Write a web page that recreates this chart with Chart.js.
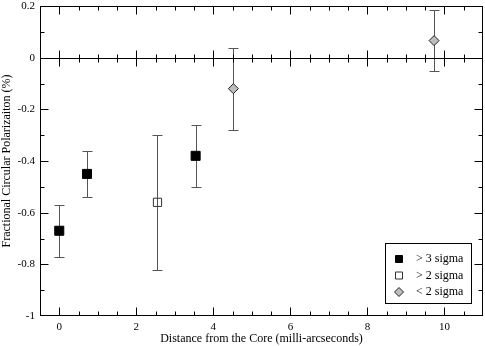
<!DOCTYPE html>
<html>
<head>
<meta charset="utf-8">
<script src="https://cdn.jsdelivr.net/npm/chart.js@4/dist/chart.umd.min.js"></script>
<style>
  html, body { margin: 0; padding: 0; background: #fff; }
  #wrap { width: 485px; height: 346px; }
</style>
</head>
<body>
<div id="wrap"><canvas id="cpChart"></canvas></div>
<script>
// distance from core (mas), fractional circular polarization (%) and error bar ends
const strongX = [0, 0.72, 3.54];
const strongY = [-0.67, -0.45, -0.38];
const strongLo = [-0.77, -0.54, -0.50];
const strongHi = [-0.57, -0.36, -0.26];

const midX = [2.55];
const midY = [-0.56];
const midLo = [-0.82];
const midHi = [-0.30];

const weakX = [4.52, 9.73];
const weakY = [-0.12, 0.066];
const weakLo = [-0.28, -0.053];
const weakHi = [0.039, 0.186];

const seriesNames = ["> 3 sigma", "> 2 sigma", "< 2 sigma"];
const xTicks = [0, 2, 4, 6, 8, 10];
const yTicks = [-1, -0.8, -0.6, -0.4, -0.2, 0, 0.2];

function pts(xs, ys, lo, hi) {
    return xs.map((x, i) => ({ x: x, y: ys[i], lo: lo[i], hi: hi[i] }));
}

const serif = "'Liberation Serif', 'DejaVu Serif', serif";

// error bars, drawn under the markers
const errorBars = {
    id: "errorBars",
    beforeDatasetsDraw(chart) {
        const c = chart.ctx, xs = chart.scales.x, ys = chart.scales.y;
        c.save();
        c.strokeStyle = "#555";
        c.lineWidth = 1;
        chart.data.datasets.forEach(ds => {
            ds.data.forEach(p => {
                const px = Math.round(xs.getPixelForValue(p.x)) + 0.5;
                const y1 = Math.round(ys.getPixelForValue(p.hi)) + 0.5;
                const y2 = Math.round(ys.getPixelForValue(p.lo)) + 0.5;
                c.beginPath();
                c.moveTo(px, y1); c.lineTo(px, y2);
                c.moveTo(px - 5, y1); c.lineTo(px + 5, y1);
                c.moveTo(px - 5, y2); c.lineTo(px + 5, y2);
                c.stroke();
            });
        });
        c.restore();
    }
};

// box frame, inward ticks, zero line, legend box
const frame = {
    id: "frame",
    afterDraw(chart) {
        const c = chart.ctx, a = chart.chartArea;
        const xs = chart.scales.x, ys = chart.scales.y;
        const L = Math.round(a.left) + 0.5, R = Math.round(a.right) - 0.5;
        const T = Math.round(a.top) + 0.5, B = Math.round(a.bottom) - 0.5;
        c.save();
        c.strokeStyle = "#000";
        c.lineWidth = 1;
        c.strokeRect(L, T, R - L, B - T);

        const z = Math.round(ys.getPixelForValue(0)) + 0.5;
        c.beginPath();
        c.moveTo(L, z); c.lineTo(R, z);
        // x ticks: major every 2, minor every 0.5
        for (let v = -0.5; v <= 11.001; v += 0.5) {
            const px = Math.round(xs.getPixelForValue(v)) + 0.5;
            if (px <= L + 1 || px >= R - 1) continue;
            const len = Math.abs(v % 2) < 1e-6 ? 8 : 4;
            c.moveTo(px, B); c.lineTo(px, B - len);
            c.moveTo(px, T); c.lineTo(px, T + len);
            c.moveTo(px, z - len); c.lineTo(px, z + len);
        }
        // y ticks: major every 0.2, minor every 0.1
        for (let i = -10; i <= 2; i++) {
            const py = Math.round(ys.getPixelForValue(i / 10)) + 0.5;
            if (py <= T + 1 || py >= B - 1) continue;
            const len = i % 2 === 0 ? 8 : 4;
            c.moveTo(L, py); c.lineTo(L + len, py);
            c.moveTo(R, py); c.lineTo(R - len, py);
        }
        c.stroke();

        // legend
        const bx = 385.5, by = 243.5, bw = 86, bh = 60;
        c.fillStyle = "#fff";
        c.fillRect(bx, by, bw, bh);
        c.strokeRect(bx, by, bw, bh);
        c.font = "12px " + serif;
        c.textBaseline = "middle";
        c.textAlign = "left";
        chart.data.datasets.forEach((ds, i) => {
            const ry = 259 + i * 16.5;
            const mx = 399;
            c.fillStyle = ds.backgroundColor;
            c.strokeStyle = ds.borderColor;
            c.lineWidth = 1;
            c.beginPath();
            if (ds.pointStyle === "rectRot") {
                c.moveTo(mx - 4.5, ry); c.lineTo(mx, ry - 4.5);
                c.lineTo(mx + 4.5, ry); c.lineTo(mx, ry + 4.5);
                c.closePath();
            } else {
                c.rect(mx - 3.5, ry - 3.5, 7, 7);
            }
            c.fill();
            c.stroke();
            c.fillStyle = "#000";
            c.fillText(ds.label, 416, ry);
        });
        c.restore();
    }
};

new Chart(document.getElementById("cpChart"), {
    type: "scatter",
    data: {
        datasets: [
            {
                label: seriesNames[0],
                data: pts(strongX, strongY, strongLo, strongHi),
                pointStyle: "rect",
                pointRadius: 6.4,
                backgroundColor: "#000",
                borderColor: "#000",
                borderWidth: 1
            },
            {
                label: seriesNames[1],
                data: pts(midX, midY, midLo, midHi),
                pointStyle: "rect",
                pointRadius: 5.8,
                backgroundColor: "rgba(255,255,255,0)",
                borderColor: "#333",
                borderWidth: 1
            },
            {
                label: seriesNames[2],
                data: pts(weakX, weakY, weakLo, weakHi),
                pointStyle: "rectRot",
                pointRadius: 5,
                backgroundColor: "#bdbdbd",
                borderColor: "#222",
                borderWidth: 1
            }
        ]
    },
    options: {
        responsive: true,
        maintainAspectRatio: false,
        animation: false,
        layout: { autoPadding: false, padding: { top: 6, right: 2, left: 0, bottom: 0 } },
        plugins: {
            legend: { display: false },
            tooltip: { enabled: false }
        },
        scales: {
            x: {
                type: "linear",
                min: -0.5,
                max: 11,
                afterFit(s) { s.height = 30; s.paddingLeft = 0; s.paddingRight = 0; },
                afterBuildTicks(s) { s.ticks = xTicks.map(v => ({ value: v })); },
                grid: { display: false, drawTicks: false },
                border: { display: false },
                ticks: {
                    color: "#000",
                    padding: 5,
                    maxRotation: 0,
                    font: { family: serif, size: 11 }
                },
                title: {
                    display: true,
                    text: "Distance from the Core (milli-arcseconds)",
                    color: "#000",
                    font: { family: serif, size: 12 },
                    padding: 0
                }
            },
            y: {
                type: "linear",
                min: -1,
                max: 0.2,
                afterFit(s) { s.width = 40; s.paddingTop = 0; s.paddingBottom = 0; },
                afterBuildTicks(s) { s.ticks = yTicks.map(v => ({ value: v })); },
                grid: { display: false, drawTicks: false },
                border: { display: false },
                ticks: {
                    color: "#000",
                    padding: 5,
                    font: { family: serif, size: 11 },
                    callback: v => String(Math.round(v * 10) / 10)
                },
                title: {
                    display: true,
                    text: "Fractional Circular Polarizaiton (%)",
                    color: "#000",
                    font: { family: serif, size: 12 },
                    padding: 0
                }
            }
        }
    },
    plugins: [errorBars, frame]
});
</script>
</body>
</html>
